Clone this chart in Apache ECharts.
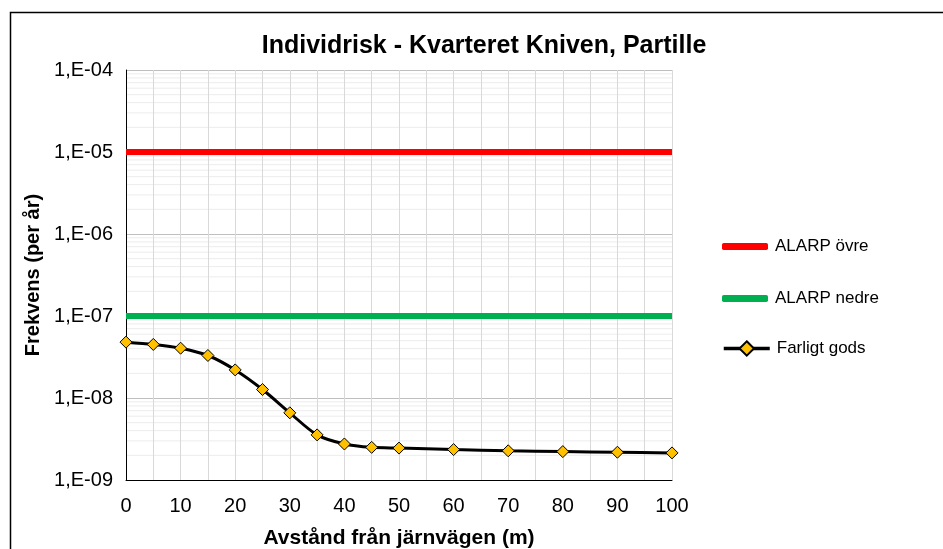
<!DOCTYPE html>
<html>
<head>
<meta charset="utf-8">
<script src="https://cdn.jsdelivr.net/npm/echarts@6/dist/echarts.min.js"></script>
<style>
  html, body { margin: 0; padding: 0; background: #fff; }
  #main { width: 943px; height: 549px; }
</style>
</head>
<body>
<div id="main"></div>
<script>
// avstånd (m) och frekvens per år
const distances = [0, 5, 10, 15, 20, 25, 30, 35, 40, 45, 50, 60, 70, 80, 90, 100];
const farligtGods = [4.8e-8, 4.5e-8, 4.05e-8, 3.3e-8, 2.2e-8, 1.27e-8, 6.6e-9, 3.55e-9,
                     2.75e-9, 2.5e-9, 2.45e-9, 2.35e-9, 2.27e-9, 2.22e-9, 2.18e-9, 2.14e-9];
const alarpOvre = 1e-5;
const alarpNedre = 1e-7;
const decades = [-9, -8, -7, -6, -5];

const chartDom = document.getElementById('main');
const myChart = echarts.init(chartDom);

// mindre stödlinjer 2..9 i varje dekad
const minorValues = [];
decades.forEach(function (e) {
  for (let m = 2; m <= 9; m++) minorValues.push(m * Math.pow(10, e));
});

const font = 'Liberation Sans, Arial, sans-serif';

const minorSeries = minorValues.map(function (v) {
  return {
    type: 'line',
    data: [[0, v], [100, v]],
    symbol: 'none',
    silent: true,
    lineStyle: { color: '#ececec', width: 1 },
    z: -1
  };
});

const option = {
  animation: false,
  textStyle: { fontFamily: font },
  title: {
    text: 'Individrisk - Kvarteret Kniven, Partille',
    left: 479, top: 29, textAlign: 'center',
    textStyle: { fontSize: 25, fontWeight: 'bold', color: '#000', fontFamily: font }
  },
  graphic: [{
    type: 'rect',
    shape: { x: 10.5, y: 12.5, width: 960, height: 560 },
    style: { fill: null, stroke: '#000', lineWidth: 1.5 },
    silent: true
  }],
  grid: { left: 126, right: 271, top: 70, bottom: 69, outerBoundsMode: 'none' },
  legend: [
    {
      orient: 'vertical',
      left: 717, top: 233,
      icon: 'roundRect',
      itemWidth: 46, itemHeight: 7, itemGap: 35,
      textStyle: { fontSize: 17, color: '#000', fontFamily: font, padding: [0, 0, 0, 2] },
      data: ['ALARP övre', 'ALARP nedre']
    },
    {
      orient: 'vertical',
      left: 717, top: 335,
      itemWidth: 46, itemHeight: 18,
      lineStyle: { width: 3.5 },
      textStyle: { fontSize: 17, color: '#000', fontFamily: font, padding: [0, 0, 0, 2] },
      data: ['Farligt gods']
    }
  ],
  xAxis: {
    type: 'value', min: 0, max: 100, interval: 10,
    name: 'Avstånd från järnvägen (m)',
    nameLocation: 'middle', nameGap: 48,
    nameTextStyle: { fontSize: 21, fontWeight: 'bold', color: '#000', fontFamily: font },
    axisLine: { show: true, onZero: false, lineStyle: { color: '#000', width: 1 } },
    axisTick: { show: false },
    axisLabel: { fontSize: 20, color: '#000', margin: 16, fontFamily: font },
    splitLine: { show: true, lineStyle: { color: '#d9d9d9', width: 1 } },
    minorTick: { show: false, splitNumber: 2 },
    minorSplitLine: { show: true, lineStyle: { color: '#d9d9d9', width: 1 } }
  },
  yAxis: {
    type: 'log', logBase: 10, min: 1e-9, max: 1e-4,
    name: 'Frekvens (per år)',
    nameLocation: 'middle', nameGap: 83, nameRotate: 90,
    nameTextStyle: { fontSize: 20, fontWeight: 'bold', color: '#000', fontFamily: font },
    axisLine: { show: true, lineStyle: { color: '#000', width: 1 } },
    axisTick: { show: false },
    axisLabel: {
      fontSize: 20, color: '#000', margin: 13, fontFamily: font,
      formatter: function (v) {
        const e = Math.round(Math.log10(v));
        const s = String(Math.abs(e)).padStart(2, '0');
        return '1,E' + (e < 0 ? '-' : '+') + s;
      }
    },
    splitLine: { show: true, lineStyle: { color: '#bfbfbf', width: 1 } }
  },
  series: minorSeries.concat([
    {
      name: 'ALARP övre',
      type: 'line',
      data: [[0, alarpOvre], [100, alarpOvre]],
      symbol: 'none',
      lineStyle: { color: '#ff0000', width: 6 },
      itemStyle: { color: '#ff0000' },
      z: 3
    },
    {
      name: 'ALARP nedre',
      type: 'line',
      data: [[0, alarpNedre], [100, alarpNedre]],
      symbol: 'none',
      lineStyle: { color: '#00b050', width: 6 },
      itemStyle: { color: '#00b050' },
      z: 3
    },
    {
      name: 'Farligt gods',
      type: 'line',
      data: distances.map(function (d, i) { return [d, farligtGods[i]]; }),
      smooth: 0.3,
      symbol: 'diamond',
      symbolSize: 12,
      showAllSymbol: true,
      lineStyle: { color: '#000', width: 3 },
      itemStyle: { color: '#ffc000', borderColor: '#000', borderWidth: 1 },
      z: 4
    }
  ])
};

option && myChart.setOption(option);
</script>
</body>
</html>
